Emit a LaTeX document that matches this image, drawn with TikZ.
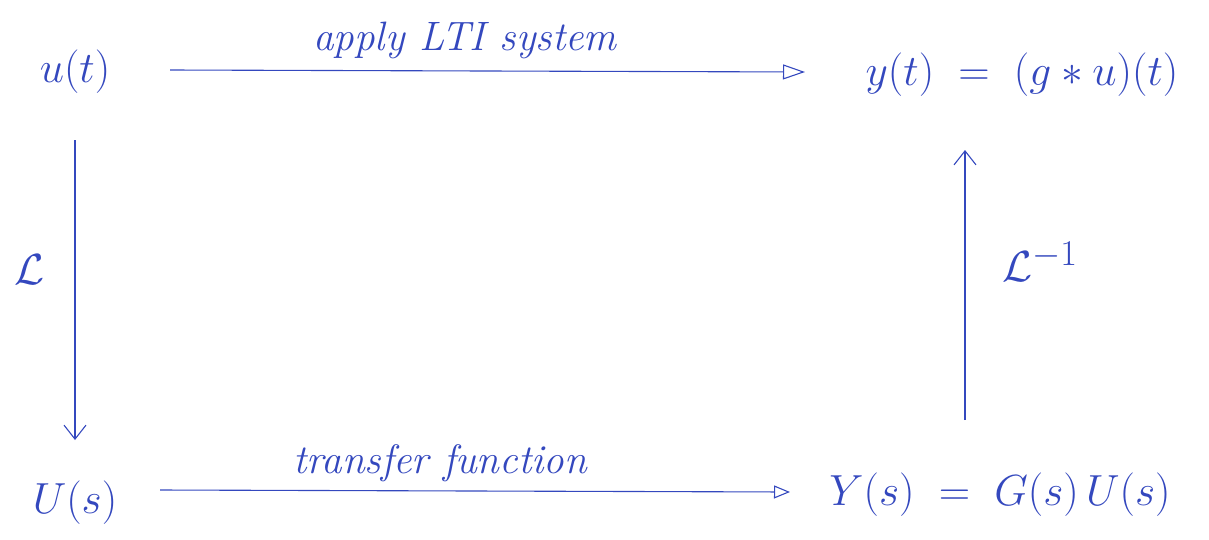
\documentclass[tikz,border=0pt]{standalone}
\usetikzlibrary{arrows.meta}
\definecolor{ink}{RGB}{52,72,190}
\begin{document}
\begin{tikzpicture}[x=1pt,y=-1pt,
  every node/.style={text=ink, inner sep=0pt},
  big/.style={font=\Huge, scale=1.75},
  lbl/.style={font=\Huge\itshape, scale=1.65},
  pen/.style={draw=ink, line width=1.1pt},
  openhead/.style={pen, -{Triangle[open, length=22pt, width=15pt]}},
  smallhead/.style={pen, -{Triangle[open, length=16pt, width=13pt]}},
  barb/.style={pen, -{Straight Barb[length=14pt, width=22pt]}}]
\useasboundingbox (0,0) rectangle (1209,539);
% corner terms
\node[big] (ut) at (75,72) {$u(t)$};
\node[big] (yt) at (1022,75) {$y(t) \;=\; (g * u)(t)$};
\node[big] (Us) at (75,503) {$U(s)$};
\node[big] (Ys) at (1000,495) {$Y(s) \;=\; G(s)\,U(s)$};
% anchors for the arrows
\coordinate (a1) at (170,70);
\coordinate (a2) at (805,72);
\coordinate (b1) at (160,490);
\coordinate (b2) at (790,492);
\coordinate (l1) at (75,140);
\coordinate (l2) at (75,440);
\coordinate (r1) at (965,420);
\coordinate (r2) at (965,150);
\draw[openhead] (a1) -- (a2);
\draw[smallhead] (b1) -- (b2);
\draw[barb] (l1) -- (l2);
\draw[barb] (r1) -- (r2);
% labels
\node[lbl] (top) at (465,40) {apply LTI system};
\node[lbl] (bot) at (440,463) {transfer function};
\node[big] (L) at (30,270) {$\mathcal{L}$};
\node[big] (Linv) at (1040,262) {$\mathcal{L}^{-1}$};
\end{tikzpicture}
\end{document}
